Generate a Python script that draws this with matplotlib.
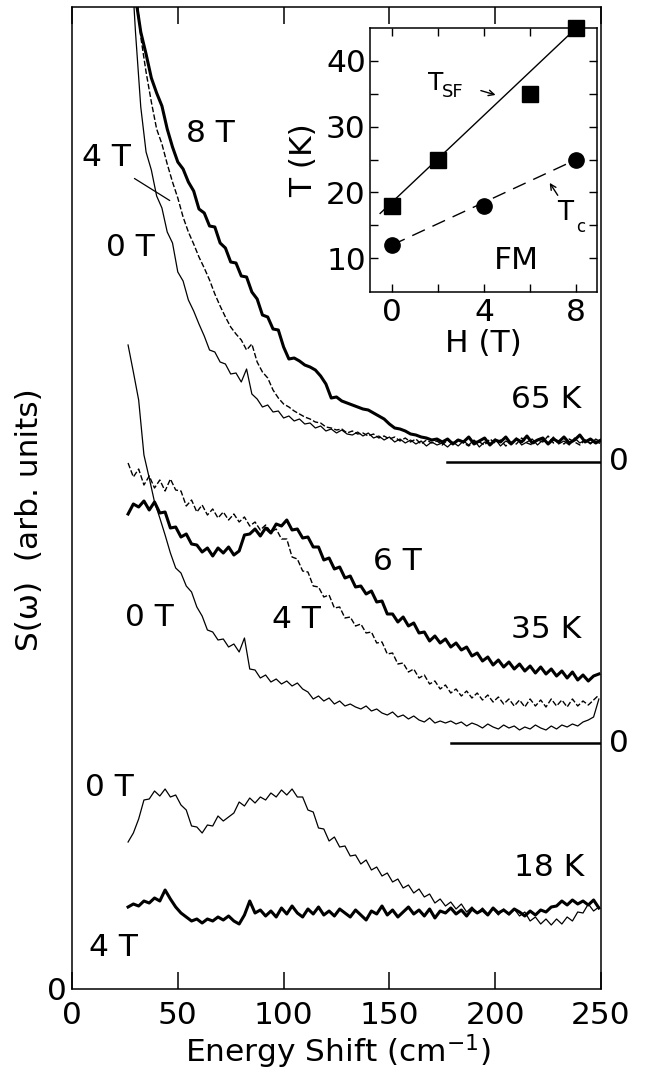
import numpy as np
import matplotlib
matplotlib.use("Agg")
import matplotlib.pyplot as plt

plt.rcParams['font.family'] = ['DejaVu Sans']
plt.rcParams['mathtext.default'] = 'regular'

# ---------------- data (arb. units) ----------------
STEP = 2.5          # cm^-1 between samples
X0_65 = 27.5        # first sample of the 65 K spectra
X0_LOW = 26.5       # first sample of the 35 K and 18 K spectra

S65_0T = [52.0, 43.0, 35.5, 31.0, 29.2, 26.6, 25.4, 23.0, 21.9, 19.0,
          18.1, 16.2, 15.1, 13.8, 12.6, 11.2, 11.0, 10.0, 9.8, 8.8,
          8.9, 8.0, 9.3, 6.8, 6.3, 5.5, 5.7, 5.0, 5.1, 4.4,
          4.6, 4.1, 4.3, 3.8, 3.9, 3.4, 3.6, 3.1, 3.3, 2.9,
          3.2, 2.8, 2.7, 3.0, 2.6, 2.9, 2.4, 2.6, 2.2, 2.5,
          2.0, 2.3, 1.9, 2.2, 1.8, 2.1, 1.6, 2.0, 1.7, 1.9,
          1.5, 2.0, 1.6, 2.1, 1.7, 2.2, 1.5, 2.0, 1.8, 2.3,
          1.6, 2.1, 1.8, 2.4, 1.7, 2.0, 2.3, 1.7, 2.2, 1.9,
          2.5, 1.8, 2.1, 1.7, 2.4, 1.9, 2.2, 1.8, 2.3, 2.0]
S65_4T = [52.0, 48.0, 42.5, 39.0, 36.0, 33.3, 31.8, 29.8, 28.0, 26.4,
          24.5, 23.0, 21.8, 20.5, 19.4, 18.2, 16.8, 15.6, 14.5, 13.5,
          12.8, 12.2, 11.2, 11.8, 10.0, 9.0, 8.4, 7.2, 6.4, 5.8,
          5.5, 5.1, 4.8, 4.5, 4.3, 4.0, 3.9, 3.5, 3.4, 3.2,
          3.3, 2.9, 3.1, 2.8, 2.9, 2.6, 2.8, 2.4, 2.6, 2.3,
          2.5, 2.1, 2.4, 2.0, 2.3, 1.8, 2.2, 1.9, 2.1, 1.7,
          2.2, 1.8, 2.3, 1.9, 1.6, 2.1, 2.0, 1.7, 2.3, 1.9,
          2.2, 1.6, 2.0, 1.8, 2.4, 1.9, 1.7, 2.2, 2.0, 2.6,
          1.9, 2.1, 1.8, 2.3, 2.0, 1.7, 2.2, 1.9, 2.1, 1.8]
S65_8T = [52.0, 46.5, 43.0, 40.8, 38.4, 36.9, 35.6, 33.3, 31.5, 30.0,
          29.3, 28.0, 27.1, 25.3, 24.9, 23.6, 23.5, 21.9, 21.4, 20.0,
          19.9, 18.6, 18.5, 17.0, 16.3, 14.7, 14.5, 13.3, 13.2, 11.5,
          10.3, 10.4, 10.1, 9.7, 9.5, 9.2, 8.6, 7.8, 6.4, 6.5,
          6.1, 5.9, 5.7, 5.5, 5.3, 5.2, 4.9, 4.6, 4.3, 3.8,
          3.4, 3.3, 3.1, 2.8, 2.7, 2.5, 2.4, 2.2, 2.3, 2.0,
          2.3, 1.8, 2.2, 2.0, 2.5, 1.8, 2.1, 2.4, 1.7, 2.2,
          2.0, 2.5, 1.8, 2.3, 2.0, 2.6, 1.9, 2.2, 2.4, 1.8,
          2.3, 2.0, 2.5, 1.9, 2.2, 2.7, 2.0, 2.3, 1.9, 2.2]

S35_0T = [39.8, 37.1, 34.3, 28.8, 26.5, 24.1, 22.5, 20.8, 19.0, 17.5,
          17.0, 15.7, 15.1, 13.6, 12.7, 11.3, 11.1, 10.3, 10.4, 9.6,
          9.9, 9.1, 10.5, 7.4, 7.3, 6.5, 6.8, 6.1, 6.4, 5.9,
          6.2, 5.7, 6.0, 5.4, 5.1, 4.4, 4.7, 4.2, 4.5, 3.9,
          4.2, 3.7, 3.9, 3.6, 3.4, 3.7, 3.2, 3.4, 3.0, 2.8,
          3.1, 2.6, 2.8, 2.4, 2.7, 2.3, 2.1, 2.5, 2.0, 2.2,
          2.0, 2.2, 1.9, 2.1, 1.7, 2.0, 1.8, 1.5, 1.9, 1.6,
          1.4, 1.8, 1.5, 1.7, 1.3, 1.6, 1.4, 1.8, 1.5, 1.3,
          1.7, 1.4, 1.8, 1.6, 1.9, 1.7, 2.1, 2.3, 2.6, 4.4]
S35_4T = [28.0, 26.6, 27.4, 25.8, 26.7, 25.5, 26.3, 25.2, 26.4, 25.3,
          25.2, 23.7, 24.3, 23.1, 23.8, 22.8, 23.4, 22.5, 23.1, 22.3,
          22.9, 22.1, 22.6, 21.7, 22.1, 21.3, 21.8, 21.1, 21.4, 20.4,
          20.4, 18.6, 18.4, 17.2, 17.1, 15.7, 15.6, 14.6, 14.8, 13.5,
          13.6, 12.5, 12.6, 11.7, 11.9, 11.0, 11.1, 10.0, 10.1, 8.9,
          9.0, 7.9, 8.0, 7.1, 7.4, 6.5, 6.8, 5.9, 6.2, 5.4,
          5.8, 5.0, 5.4, 4.7, 5.2, 4.5, 5.0, 4.3, 4.8, 4.1,
          4.6, 3.9, 4.4, 3.7, 4.3, 3.6, 4.4, 3.7, 4.3, 3.6,
          4.4, 3.7, 4.3, 3.6, 4.4, 3.7, 4.2, 3.8, 4.3, 4.8]
S35_6T = [22.9, 23.9, 23.6, 24.2, 23.3, 24.1, 23.0, 23.1, 21.5, 21.6,
          20.6, 20.9, 19.9, 19.8, 19.1, 19.5, 18.7, 19.5, 19.0, 19.6,
          18.8, 19.2, 20.8, 20.9, 21.4, 20.7, 21.5, 21.0, 21.9, 21.7,
          22.3, 21.3, 21.4, 20.5, 20.6, 19.6, 19.6, 18.3, 18.5, 17.4,
          17.6, 16.5, 16.7, 15.6, 15.7, 14.9, 15.2, 14.1, 14.2, 12.9,
          12.9, 12.1, 12.6, 11.7, 12.0, 11.0, 11.1, 10.2, 10.7, 10.0,
          10.4, 9.6, 10.0, 9.3, 9.6, 8.7, 9.0, 8.2, 8.6, 7.8,
          8.3, 7.6, 8.1, 7.4, 7.9, 7.2, 7.7, 7.0, 7.6, 6.9,
          7.4, 6.7, 7.2, 6.5, 7.1, 6.3, 6.8, 6.2, 6.7, 6.9]

S18_0T = [14.7, 15.6, 17.0, 18.9, 19.0, 19.8, 19.3, 20.0, 19.2, 19.4,
          18.4, 17.9, 16.3, 16.2, 15.6, 16.4, 16.3, 17.3, 16.8, 17.2,
          17.6, 18.7, 18.3, 19.1, 18.6, 19.2, 18.9, 19.6, 19.2, 19.9,
          19.4, 20.0, 19.2, 19.2, 17.9, 17.7, 16.1, 16.0, 14.8, 15.2,
          14.2, 14.3, 13.3, 13.4, 12.5, 12.9, 11.9, 12.2, 11.3, 11.6,
          10.7, 11.0, 10.1, 10.4, 9.6, 10.0, 9.2, 9.5, 8.6, 9.0,
          8.3, 8.7, 8.0, 8.5, 7.7, 8.2, 7.6, 8.1, 7.5, 8.0,
          7.4, 8.0, 7.4, 8.0, 7.3, 7.7, 6.8, 7.2, 6.5, 7.0,
          6.4, 7.0, 6.5, 7.2, 6.8, 7.7, 7.6, 8.5, 7.8, 8.2]
S18_4T = [8.2, 8.5, 8.3, 8.8, 8.6, 9.1, 8.8, 9.9, 9.0, 8.2,
          7.6, 7.2, 6.8, 7.0, 6.6, 7.0, 6.8, 7.2, 6.9, 7.3,
          6.8, 6.5, 7.4, 8.8, 7.6, 7.9, 7.3, 7.8, 7.2, 8.1,
          7.5, 8.3, 7.6, 7.2, 8.0, 7.5, 8.2, 7.4, 7.8, 7.3,
          8.0, 7.6, 7.2, 7.9, 7.4, 6.9, 7.8, 7.5, 8.3, 7.4,
          7.9, 7.2, 7.7, 8.2, 7.5, 7.9, 7.3, 8.0, 7.1, 7.8,
          7.6, 8.1, 7.5, 7.9, 7.3, 8.0, 7.6, 7.9, 7.4, 8.1,
          7.6, 7.9, 7.5, 8.0, 7.7, 7.3, 7.8, 7.4, 7.9, 7.7,
          8.2, 8.3, 8.8, 8.4, 8.9, 8.5, 8.8, 8.4, 8.9, 8.1]

OFFSET = {"65 K": 52.7, "35 K": 24.6, "18 K": 0.0}   # vertical shift of each set
ZERO_FROM = {"65 K": 177, "35 K": 179}               # start of the zero marks

# inset: T_SF and T_c versus field
H_SF = [0, 2, 6, 8]
T_SF = [18, 25, 35, 45]
H_C = [0, 4, 8]
T_C = [12, 18, 25]
SF_FIT_H = [-0.52, 8.0]
SF_FIT_T = [16.8, 45.0]
C_FIT_H = [0.0, 8.0]
C_FIT_T = [12.0, 25.0]

# ---------------- figure ----------------
W, H = 662, 1089
FS = 22.5
fig = plt.figure(figsize=(W / 100, H / 100), dpi=100)


def px_box(l, t, r, b):
    return [l / W, 1 - b / H, (r - l) / W, (b - t) / H]


ax = fig.add_axes(px_box(72, 7, 601, 989))
ax.set_xlim(0, 250)
ax.set_ylim(0, 98.2)

THIN = dict(color="black", lw=0.9)
THICK = dict(color="black", lw=2.2)
DASH = dict(color="black", lw=1.0, ls=(0, (4, 1.6)))


def draw(vals, x0, off, style):
    v = np.asarray(vals, dtype=float)
    x = x0 + STEP * np.arange(len(v))
    ax.plot(x, v + off, **style)


draw(S65_0T, X0_65, OFFSET["65 K"], THIN)
draw(S65_4T, X0_65, OFFSET["65 K"], DASH)
draw(S65_8T, X0_65, OFFSET["65 K"], THICK)
draw(S35_0T, X0_LOW, OFFSET["35 K"], THIN)
draw(S35_4T, X0_LOW, OFFSET["35 K"], DASH)
draw(S35_6T, X0_LOW, OFFSET["35 K"], THICK)
draw(S18_0T, X0_LOW, OFFSET["18 K"], THIN)
draw(S18_4T, X0_LOW, OFFSET["18 K"], THICK)

for key, x_start in ZERO_FROM.items():
    ax.plot([x_start, 250], [OFFSET[key]] * 2, color="black", lw=1.8)
    ax.text(258.5, OFFSET[key], "0", fontsize=FS, ha="center", va="center",
            clip_on=False)

ax.set_xticks([0, 50, 100, 150, 200, 250])
ax.tick_params(axis="x", direction="in", length=12, width=1.1, top=True,
               labelsize=FS, pad=9)
ax.set_yticks([0])
ax.tick_params(axis="y", length=0, labelsize=FS, pad=4)
for s in ax.spines.values():
    s.set_linewidth(1.1)

# labels of the curves
labels = [("8 T", 65.2, 85.6), ("4 T", 16.5, 83.2), ("0 T", 27.4, 74.2),
          ("65 K", 224, 58.9), ("6 T", 153.6, 42.7), ("0 T", 36.4, 37.2),
          ("4 T", 106.3, 36.9), ("35 K", 224, 35.9), ("0 T", 17.7, 20.2),
          ("18 K", 225.4, 12.2), ("4 T", 19.4, 4.2)]
for txt, x, y in labels:
    ax.text(x, y, txt, fontsize=FS, ha="center", va="center")
ax.annotate("", xy=(47.3, 78.7), xytext=(28.4, 81.2),
            arrowprops=dict(arrowstyle="-", lw=0.9, color="black"))

fig.text(30 / W, 1 - 520 / H, "S(ω)  (arb. units)", fontsize=FS,
         rotation=90, ha="center", va="center")
fig.text(338 / W, 1 - 1052 / H, "Energy Shift (cm$^{-1}$)", fontsize=FS,
         ha="center", va="center")

# ---------------- inset ----------------
ia = fig.add_axes(px_box(370, 28, 597, 292))
ia.set_facecolor("white")
ia.set_xlim(-0.96, 8.9)
ia.set_ylim(4.85, 45.0)
ia.plot(SF_FIT_H, SF_FIT_T, color="black", lw=1.0)
ia.plot(C_FIT_H, C_FIT_T, color="black", lw=1.0, dashes=(10, 6))
ia.plot(H_SF, T_SF, "s", color="black", ms=12, clip_on=False, zorder=5)
ia.plot(H_C, T_C, "o", color="black", ms=11, clip_on=False, zorder=5)
ia.set_xticks([0, 4, 8])
ia.set_xticks([2, 6], minor=True)
ia.set_yticks([10, 20, 30, 40])
ia.set_yticks([15, 25, 35], minor=True)
ia.tick_params(which="both", direction="in", length=6, width=1.0,
               top=True, right=True, labelsize=FS)
ia.tick_params(axis="x", pad=4)
ia.tick_params(axis="y", pad=3)
for s in ia.spines.values():
    s.set_linewidth(1.1)
ia.set_xlabel("H (T)", fontsize=FS, labelpad=2)
ia.set_ylabel("T (K)", fontsize=FS, labelpad=6)

ia.text(1.91, 36.7, "T", fontsize=18, ha="center", va="center")
ia.text(2.17, 35.2, "SF", fontsize=13, ha="left", va="center")
ia.annotate("", xy=(4.61, 34.7), xytext=(3.74, 35.6),
            arrowprops=dict(arrowstyle="->", lw=1.0, color="black"))
ia.text(7.52, 16.8, "T", fontsize=19, ha="center", va="center")
ia.text(8.17, 14.8, "c", fontsize=12, ha="center", va="center")
ia.annotate("", xy=(6.78, 21.8), xytext=(7.26, 19.2),
            arrowprops=dict(arrowstyle="->", lw=1.0, color="black"))
ia.text(5.39, 9.7, "FM", fontsize=FS, ha="center", va="center")

fig.savefig("out.png", dpi=100)
